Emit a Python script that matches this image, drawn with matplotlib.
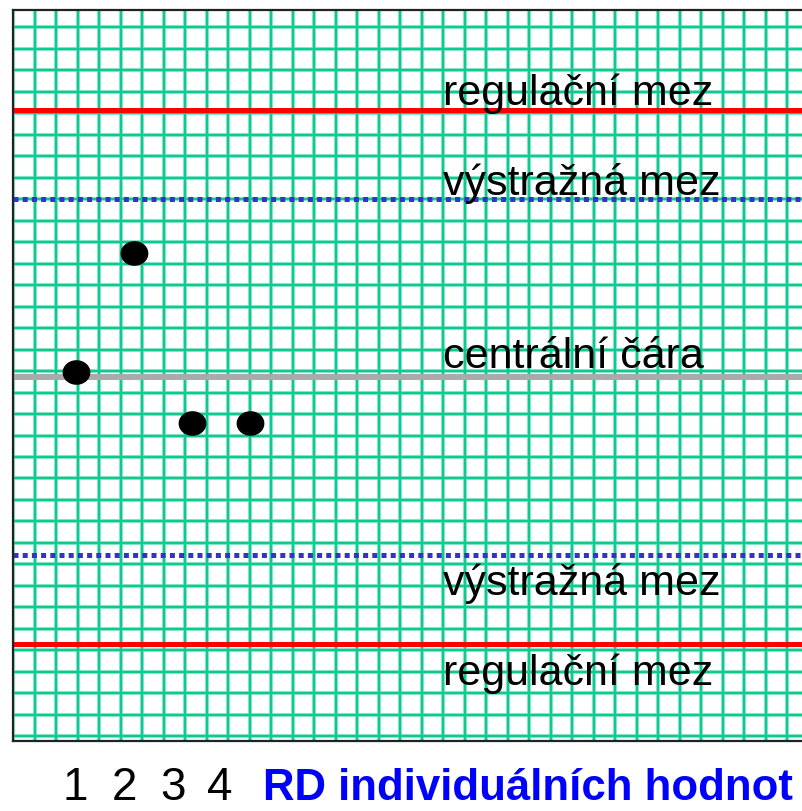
import numpy as np
import matplotlib
matplotlib.use("Agg")
import matplotlib.pyplot as plt

# hodnoty v jednotkách sigma, centrální čára = 0
samples = [1, 2, 3, 4]
values = [0.056, 1.393, -0.52, -0.52]
limit_names = ["regulační mez", "výstražná mez", "centrální čára", "výstražná mez", "regulační mez"]
limit_values = [3, 2, 0, -2, -3]
limit_colors = ["#ff0000", "#3333cc", "#aaaaaa", "#3333cc", "#ff0000"]
limit_styles = ["-", (0, (1, 0.84)), "-", (0, (1, 0.84)), "-"]
tick_labels = ["1", "2", "3", "4"]
axis_title = "RD individuálních hodnot"

W, H = 803, 811
fig = plt.figure(figsize=(W / 100, H / 100), dpi=100)
ax = fig.add_axes([13 / W, (H - 741) / H, 1 - 13 / W, (741 - 10) / H])

# osa: px = 75.8 + 58.2*(x-1), px_y = 377 - 89*y
ax.set_xlim(1 - 62.8 / 58.2, 1 + 727.2 / 58.2)
ax.set_ylim(-364.5 / 89, 367 / 89)

# mřížka (čtverečky 21.5 px)
gx = ax.get_xlim()[0] + np.arange(0, 40) * 21.51 / 58.2
gy = 3.929 - np.arange(0, 34) * 21.5 / 89
for x in gx:
    ax.axvline(x, color="#9fead3", lw=3.0, zorder=1)
    ax.axvline(x, color="#0fc993", lw=1.7, zorder=1.1)
for y in gy:
    ax.axhline(y, color="#9fead3", lw=3.0, zorder=1)
    ax.axhline(y, color="#0fc993", lw=1.7, zorder=1.1)

lws = [3.6, 3.6, 4.3, 3.6, 3.6]
for v, c, ls, lw in zip(limit_values, limit_colors, limit_styles, lws):
    ax.axhline(v, color=c, ls=ls, lw=lw, zorder=2, dash_capstyle="butt")

# popisky čar
text_offsets = [0.056, 0.045, 0.098, -0.449, -0.461]
for name, v, off in zip(limit_names, limit_values, text_offsets):
    ax.text(7.31, v + off, name, fontsize=31, family=["Liberation Sans", "DejaVu Sans"],
            va="baseline", ha="left", color="black", zorder=3)

t = np.linspace(0, 2 * np.pi, 60)
ell = np.column_stack([np.cos(t), 0.88 * np.sin(t)])
ax.plot(samples, values, ls="none", marker=ell, markersize=19, color="black", zorder=4)

ax.set_xticks([])
ax.set_yticks([])
for s in ["left", "top", "bottom"]:
    ax.spines[s].set_linewidth(1.6)
    ax.spines[s].set_color("#222222")
ax.spines["right"].set_visible(False)

fam = ["Liberation Sans", "DejaVu Sans"]
tick_px = [75, 124, 173, 220]
for lab, px in zip(tick_labels, tick_px):
    fig.text(px / W, (H - 800) / H, lab, fontsize=33, family=fam,
             ha="center", va="baseline", color="black")
fig.text(263 / W, (H - 800) / H, axis_title, fontsize=31.5, family=fam,
         fontweight="bold", ha="left", va="baseline", color="#0000ff")

fig.savefig("out.png", dpi=100)
